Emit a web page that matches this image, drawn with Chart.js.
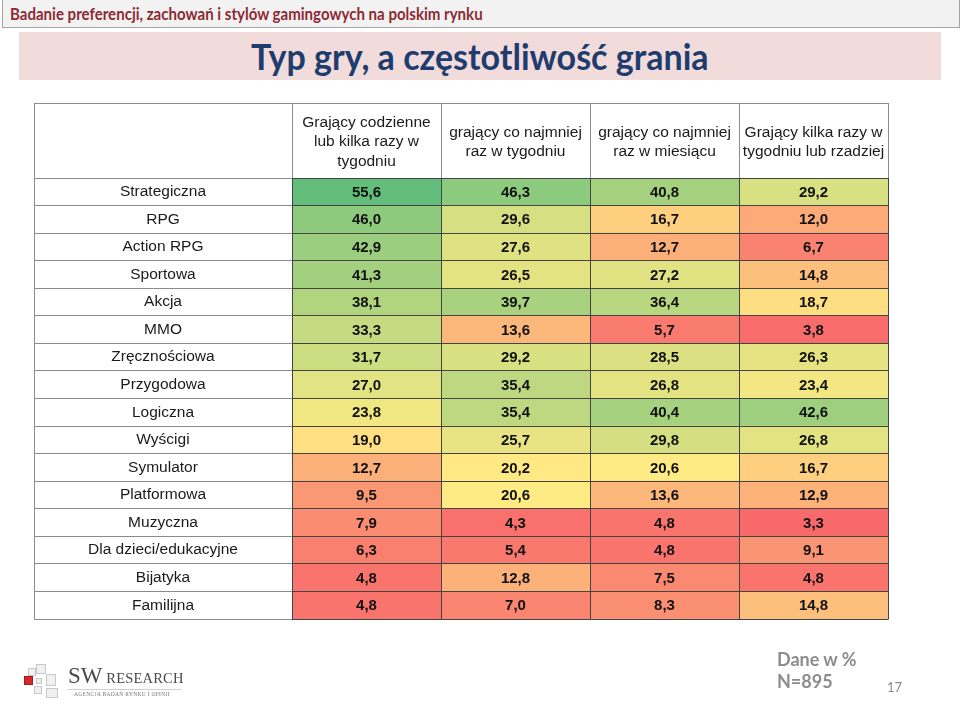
<!DOCTYPE html>
<html><head><meta charset="utf-8">
<script src="https://cdn.jsdelivr.net/npm/chart.js@4.4.0/dist/chart.umd.min.js"></script>
<style>
html,body{margin:0;padding:0;background:#fff;width:960px;height:708px;overflow:hidden;position:relative;font-family:"Liberation Sans",Arial,sans-serif}
#topbar{position:absolute;left:2px;top:-1px;width:958px;height:29px;background:#f2f2f2;border:1px solid #a6a6a6;box-sizing:border-box}
#topbar span{position:absolute;left:7px;top:3px;font-family:Lato,"Open Sans",sans-serif;font-weight:bold;font-size:17.5px;color:#8e2a33;white-space:nowrap;transform-origin:left center;transform:scaleX(0.86)}
#band{position:absolute;left:19px;top:32px;width:922px;height:48px;background:#f2dcdb}
#title{position:absolute;left:0;top:33px;width:960px;text-align:center;font-family:Lato,"Open Sans",sans-serif;font-weight:bold;font-size:37px;color:#1f3c6e;white-space:nowrap}
#title span{display:inline-block;transform:scaleX(0.92)}
#frame{position:absolute;left:34px;top:103px;width:855px;height:517px;border:1px solid #8c8c8c;box-sizing:border-box}
#chartwrap{position:absolute;left:0;top:0;width:960px;height:708px}
.foot{position:absolute;font-family:Lato,"Open Sans",sans-serif;font-weight:bold;color:#8c8c8c;white-space:nowrap}
#logo{position:absolute;left:24px;top:664px;width:160px;height:38px}
.sq{position:absolute;background:#f0f0f0;border:1px solid #c8c8c8;box-sizing:border-box}
#sw{position:absolute;left:44px;top:-1px;font-family:"Liberation Serif",serif;color:#4a4a4a;white-space:nowrap}
</style></head>
<body>
<div id="topbar"><span>Badanie preferencji, zachowań i stylów gamingowych na polskim rynku</span></div>
<div id="band"></div>
<div id="title"><span>Typ gry, a częstotliwość grania</span></div>
<div id="frame"></div>
<div id="chartwrap"><canvas id="c" width="960" height="708"></canvas></div>
<div id="logo">
  <div class="sq" style="left:0;top:12px;width:9px;height:9px;background:#d9262b;border-color:#a01a1e"></div>
  <div class="sq" style="left:4px;top:4px;width:8px;height:8px"></div>
  <div class="sq" style="left:12px;top:0;width:10px;height:10px"></div>
  <div class="sq" style="left:12px;top:14px;width:6px;height:6px"></div>
  <div class="sq" style="left:10px;top:22px;width:8px;height:8px"></div>
  <div class="sq" style="left:22px;top:10px;width:10px;height:12px"></div>
  <div class="sq" style="left:22px;top:24px;width:12px;height:10px"></div>
  <div id="sw"><span style="font-size:23px">SW</span><span style="font-size:14.5px;letter-spacing:0.2px"> RESEARCH</span></div>
  <div style="position:absolute;left:44px;top:25px;width:114px;border-top:1px solid #d0d0d0"></div>
  <div style="position:absolute;left:50px;top:27px;font-family:'Liberation Serif',serif;font-size:5.5px;color:#777;white-space:nowrap;letter-spacing:0.3px">AGENCJA BADAŃ RYNKU I OPINII</div>
</div>
<div class="foot" style="left:777px;top:648px;font-size:18px">Dane w %</div>
<div class="foot" style="left:777px;top:670px;font-size:18px">N=895</div>
<div class="foot" style="left:887px;top:679px;font-size:13px;font-weight:normal">17</div>
<script>
// ---- data ----
const categories = ["Strategiczna","RPG","Action RPG","Sportowa","Akcja","MMO","Zręcznościowa","Przygodowa","Logiczna","Wyścigi","Symulator","Platformowa","Muzyczna","Dla dzieci/edukacyjne","Bijatyka","Familijna"];
const columnHeaders = [
  ["Grający codzienne","lub kilka razy w","tygodniu"],
  ["grający co najmniej","raz w tygodniu"],
  ["grający co najmniej","raz w miesiącu"],
  ["Grający kilka razy w","tygodniu lub rzadziej"]
];
const dailyOrFewPerWeek = [55.6,46.0,42.9,41.3,38.1,33.3,31.7,27.0,23.8,19.0,12.7,9.5,7.9,6.3,4.8,4.8];
const atLeastWeekly     = [46.3,29.6,27.6,26.5,39.7,13.6,29.2,35.4,35.4,25.7,20.2,20.6,4.3,5.4,12.8,7.0];
const atLeastMonthly    = [40.8,16.7,12.7,27.2,36.4,5.7,28.5,26.8,40.4,29.8,20.6,13.6,4.8,4.8,7.5,8.3];
const fewTimesOrLess    = [29.2,12.0,6.7,14.8,18.7,3.8,26.3,23.4,42.6,26.8,16.7,12.9,3.3,9.1,4.8,14.8];
const seriesValues = [dailyOrFewPerWeek, atLeastWeekly, atLeastMonthly, fewTimesOrLess];

// ---- 3-colour scale (min red, 50th percentile yellow, max green) ----
const sorted = seriesValues.flat().sort((a,b)=>a-b);
const vMin = sorted[0], vMax = sorted[sorted.length-1];
const pPos = (sorted.length-1)*0.5, pLo = Math.floor(pPos), pHi = Math.ceil(pPos);
const vMid = sorted[pLo] + (sorted[pHi]-sorted[pLo])*(pPos-pLo);
const LOW=[248,105,107], MID=[255,235,132], HIGH=[99,190,123];
function scaleColor(v){
  let a,b,t;
  if (v<=vMid){a=LOW;b=MID;t=(v-vMin)/(vMid-vMin);} else {a=MID;b=HIGH;t=(v-vMid)/(vMax-vMid);}
  const c=a.map((x,i)=>Math.round(x+(b[i]-x)*t));
  return 'rgb('+c.join(',')+')';
}
const fmt = v => v.toFixed(1).replace('.', ',');

// ---- layout constants ----
const FONT_FAMILY = '"Liberation Sans", Arial, sans-serif';
const LABEL_SIZE = 15.5;
const LABEL_COL_W = 258, HEADER_H = 75;
const mctx = document.createElement('canvas').getContext('2d');
mctx.font = LABEL_SIZE + 'px ' + FONT_FAMILY;
const widest = Math.max(...categories.map(s => mctx.measureText(s).width));
const yPad = LABEL_COL_W/2 - LABEL_COL_W - widest/2;   // centre labels in label column
const LH = 19.5;
const x2Pad = (HEADER_H/2 - LH) - HEADER_H - 1.5;

const valueLabels = {
  id: 'valueLabels',
  afterDatasetsDraw(chart){
    const ctx = chart.ctx;
    ctx.save();
    ctx.font = 'bold 15px ' + FONT_FAMILY;
    ctx.fillStyle = '#111';
    ctx.textAlign = 'center';
    ctx.textBaseline = 'middle';
    chart.data.datasets.forEach((ds, di) => {
      chart.getDatasetMeta(di).data.forEach((el, i) => {
        ctx.fillText(fmt(seriesValues[di][i]), (el.x + el.base)/2, el.y + 1);
      });
    });
    ctx.restore();
  }
};

new Chart(document.getElementById('c'), {
  type: 'bar',
  data: {
    labels: categories,
    datasets: seriesValues.map((vals, c) => ({
      label: columnHeaders[c].join(' '),
      data: vals.map(() => [c, c+1]),
      backgroundColor: vals.map(scaleColor),
      borderWidth: 0,
      barPercentage: 1,
      categoryPercentage: 1,
      grouped: false,
      xAxisID: 'x',
      yAxisID: 'y'
    }))
  },
  options: {
    indexAxis: 'y',
    responsive: false,
    animation: false,
    events: [],
    layout: { padding: { left: 34, right: 72, top: 103, bottom: 89 } },
    plugins: { legend: { display: false }, tooltip: { enabled: false }, title: { display: false } },
    scales: {
      x: { type: 'linear', min: 0, max: columnHeaders.length, display: false },
      x2: {
        type: 'category', labels: columnHeaders, position: 'top', offset: true,
        grid: { offset: true, color: '#444', tickColor: '#8c8c8c', tickLength: HEADER_H, z: 1, lineWidth: 1 },
        border: { display: false },
        ticks: { font: { family: FONT_FAMILY, size: LABEL_SIZE, lineHeight: LH/LABEL_SIZE }, color: '#1a1a1a', crossAlign: 'center',
                 padding: x2Pad, maxRotation: 0, minRotation: 0, autoSkip: false },
        afterFit(s){ s.height = HEADER_H; }
      },
      y: {
        type: 'category', position: 'left', offset: true,
        grid: { offset: true, color: '#444', tickColor: '#8c8c8c', tickLength: LABEL_COL_W, z: 1, lineWidth: 1 },
        border: { display: true, color: '#444', z: 1 },
        ticks: { font: { family: FONT_FAMILY, size: LABEL_SIZE }, color: '#1a1a1a', crossAlign: 'center', padding: yPad, autoSkip: false },
        afterFit(s){ s.width = LABEL_COL_W; }
      }
    }
  },
  plugins: [valueLabels]
});
</script>
</body></html>
